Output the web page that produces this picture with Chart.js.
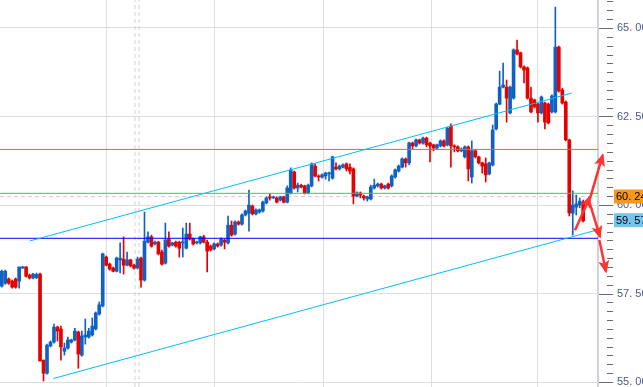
<!DOCTYPE html>
<html>
<head>
<meta charset="utf-8">
<script src="https://cdn.jsdelivr.net/npm/chart.js@4.4.1/dist/chart.umd.min.js"></script>
<style>
  html, body { margin: 0; padding: 0; background: #fff; }
  canvas { display: block; }
</style>
</head>
<body>
<canvas id="chart" width="643" height="387"></canvas>
<script>
// Candles (OHLC), one per bar
const open = [
  57.71,57.79,57.91,57.85,57.91,57.85,58.22,58.25,58.02,57.94,
  57.95,58.05,55.62,55.25,56.02,56.13,56.55,56.50,55.87,55.96,
  56.13,56.19,56.41,55.76,56.27,56.27,56.33,56.50,56.92,57.15,
  58.53,58.33,58.22,58.13,58.45,58.47,58.30,58.45,58.30,58.22,
  58.50,57.88,58.95,59.10,58.90,58.95,58.67,58.36,59.04,58.87,
  58.95,58.95,58.93,58.78,59.18,59.04,58.93,58.93,59.10,58.95,
  58.84,58.76,58.90,58.87,59.01,58.93,59.43,59.18,59.52,59.46,
  59.72,59.77,59.97,59.75,59.80,59.83,60.06,60.23,60.20,60.20,
  60.14,60.23,60.08,60.34,60.93,60.48,60.56,60.54,60.34,60.54,
  61.10,60.82,60.79,60.82,60.88,60.76,61.07,61.02,61.07,61.16,
  61.07,61.02,60.25,60.34,60.25,60.17,60.17,60.48,60.54,60.59,
  60.48,60.59,60.54,60.79,60.96,61.07,61.30,61.19,61.75,61.67,
  61.84,61.75,61.89,61.75,61.70,61.61,61.67,61.81,61.70,62.23,
  61.67,61.64,61.53,61.36,61.64,60.79,61.53,61.36,61.19,61.16,
  60.88,61.13,62.15,62.85,63.33,63.33,62.60,63.02,64.38,64.30,
  63.90,63.87,63.02,62.97,62.85,62.60,62.88,62.85,62.63,62.63,
  64.46,63.25,62.91,61.84,59.77,59.94,60.00,60.08
];
const high = [
  58.16,58.16,57.94,57.88,57.94,58.25,58.27,58.26,58.05,58.07,
  58.08,58.08,55.62,56.07,56.16,56.64,56.58,56.58,56.10,56.27,
  56.21,56.52,56.44,56.44,56.78,56.52,56.81,56.98,57.26,58.64,
  58.56,58.36,58.25,58.53,58.93,59.10,58.67,58.47,58.33,58.53,
  58.53,59.80,59.24,59.15,58.98,58.98,58.73,59.49,59.24,58.95,
  58.98,58.98,59.35,59.49,59.49,59.07,58.98,59.12,59.15,59.01,
  58.87,58.93,58.93,59.07,59.04,59.69,59.55,59.55,59.55,59.75,
  59.86,60.42,60.00,59.89,59.89,60.11,60.23,60.31,60.25,60.23,
  60.25,60.25,60.54,61.05,60.96,60.62,60.59,60.56,60.59,61.19,
  61.16,60.85,60.88,60.93,60.93,61.38,61.19,61.13,61.16,61.19,
  61.16,61.05,60.37,60.37,60.28,60.25,60.56,60.73,60.62,60.62,
  60.56,60.62,60.85,61.02,61.13,61.33,61.33,61.78,61.78,61.86,
  61.86,61.92,61.92,61.78,61.72,61.72,61.84,61.84,62.20,62.29,
  61.70,61.67,61.61,61.67,61.67,61.81,61.55,61.38,61.21,61.33,
  61.21,62.26,62.88,63.78,64.01,63.53,63.36,64.41,64.66,64.32,
  63.93,63.90,63.33,62.99,62.88,63.08,62.91,62.88,63.11,65.59,
  64.49,63.30,62.94,61.86,60.40,60.28,60.20,60.14
];
const low = [
  57.68,57.76,57.76,57.65,57.65,57.65,58.21,57.96,57.91,57.91,
  57.92,57.57,55.03,55.22,55.99,56.10,56.16,55.62,55.76,55.93,
  56.10,56.16,55.39,55.73,56.07,56.24,56.30,56.47,56.89,57.12,
  58.28,58.16,58.11,58.11,58.08,58.05,58.28,58.25,58.19,58.19,
  57.68,57.85,58.93,58.81,58.87,58.59,58.30,58.33,58.81,58.84,
  58.81,58.53,58.53,58.76,59.01,58.87,58.90,58.90,58.93,58.11,
  58.70,58.73,58.81,58.84,58.76,58.90,59.12,59.15,59.43,59.43,
  59.69,59.26,59.72,59.72,59.77,59.80,60.03,60.14,60.18,60.06,
  60.11,60.06,60.06,60.31,60.45,60.37,60.48,60.31,60.31,60.51,
  60.79,60.68,60.76,60.73,60.68,60.73,60.99,60.99,61.05,60.96,
  60.88,60.03,60.23,60.20,60.14,60.11,60.14,60.45,60.51,60.45,
  60.45,60.45,60.51,60.76,60.93,61.05,61.07,61.13,61.58,61.64,
  61.72,61.72,61.64,61.22,61.53,61.58,61.64,61.64,61.67,61.07,
  61.50,61.50,61.50,61.33,60.68,60.62,61.33,61.16,60.90,60.65,
  60.85,61.10,62.12,62.83,63.31,62.34,62.57,62.99,64.24,63.87,
  63.45,62.99,62.60,62.74,62.34,62.57,62.15,62.29,62.60,62.60,
  63.19,62.85,61.81,59.69,59.15,59.72,59.92,59.52
];
const close = [
  58.13,58.13,57.79,57.68,57.68,58.25,58.25,57.99,57.94,58.05,
  58.04,55.59,55.25,56.04,56.13,56.55,56.44,55.99,55.96,56.19,
  56.19,56.44,55.79,56.30,56.33,56.44,56.58,56.95,57.18,58.62,
  58.30,58.19,58.13,58.50,58.50,58.30,58.45,58.28,58.22,58.47,
  57.88,58.98,59.10,58.84,58.95,58.62,58.33,59.01,58.84,58.93,
  58.84,58.78,58.95,59.18,59.04,58.90,58.95,59.10,58.95,58.70,
  58.73,58.90,58.84,59.04,58.95,59.43,59.15,59.52,59.46,59.72,
  59.83,60.00,59.75,59.86,59.86,60.08,60.20,60.20,60.23,60.08,
  60.23,60.08,60.48,60.99,60.48,60.56,60.51,60.34,60.56,61.16,
  60.82,60.79,60.85,60.90,60.90,61.36,61.02,61.10,61.13,61.02,
  60.96,60.25,60.34,60.28,60.20,60.23,60.51,60.56,60.59,60.48,
  60.54,60.48,60.82,60.99,61.10,61.30,61.19,61.75,61.67,61.84,
  61.75,61.89,61.70,61.67,61.61,61.70,61.81,61.67,62.17,61.67,
  61.64,61.53,61.58,61.64,61.02,61.53,61.36,61.19,61.10,60.85,
  61.19,62.12,62.85,63.33,63.39,63.02,63.33,64.38,64.27,63.90,
  63.81,63.02,62.63,62.77,62.60,63.05,62.34,62.32,63.08,64.46,
  63.22,62.88,61.84,59.77,60.00,60.03,60.11,59.55
];

// price axis
const yLabels = [55, 57.5, 60, 62.5, 65];
const yMin = 54.86, yMax = 65.79, tickStep = 0.25;
// bar-index axis (a few empty slots on the right)
const xMin = -0.5, xMax = 171.25;
const gridIdx = [30.2, 61, 92.3, 123.3, 154];
const sessionIdx = [38.27, 39.42];

// horizontal levels: orange, green, blue
const levelPrices = [61.57, 60.33, 59.06];
const askPrice = 60.24;
const bidPrice = 59.57;

// channel lines [index, price]
const upperChannel = [[7.92, 58.98], [163.7, 63.16]];
const lowerChannel = [[14.81, 55.10], [170.39, 59.28]];
// scenario arrows [index, price] start -> end
const arrowPaths = [
  [[164.65, 59.29], [168.96, 60.23]],
  [[168.96, 60.19], [172.6, 61.41]],
  [[168.47, 60.19], [171.83, 59.10]],
  [[171.63, 59.01], [173.55, 58.12]]
];

const UP = '#1061c4', DOWN = '#e60000';
const candleColor = ctx => close[ctx.dataIndex] >= open[ctx.dataIndex] ? UP : DOWN;
const pts = arr => arr.map(p => ({ x: p[0], y: p[1] }));

const datasets = [];

// arrows on top
arrowPaths.forEach(a => datasets.push({
  type: 'line', data: pts(a), arrow: true, borderColor: '#ff3333', borderWidth: 2.5,
  pointRadius: 0, clip: false, order: 0
}));
[upperChannel, lowerChannel].forEach(c => datasets.push({
  type: 'line', data: pts(c), borderColor: '#00bfff', borderWidth: 1, pointRadius: 0, order: 1
}));
const levelColors = ['#f0661a', '#22dd22', '#0000ff'];
levelPrices.forEach((p, i) => datasets.push({
  type: 'line', data: [{ x: xMin, y: p }, { x: xMax, y: p }],
  borderColor: levelColors[i], borderWidth: 1, pointRadius: 0, order: 2
}));
datasets.push({
  type: 'line', data: [{ x: xMin, y: askPrice }, { x: xMax, y: askPrice }],
  borderColor: '#d2d2d2', borderWidth: 1, borderDash: [4, 3], pointRadius: 0, order: 6
});
sessionIdx.forEach(v => datasets.push({
  type: 'line', data: [{ x: v, y: yMin }, { x: v, y: yMax }],
  borderColor: '#d2d2d2', borderWidth: 1, borderDash: [4, 3], pointRadius: 0, order: 6
}));

// candle bodies and wicks
datasets.push({
  type: 'bar', order: 3, grouped: false, barThickness: 3, minBarLength: 1,
  data: open.map((o, i) => ({ x: i, y: [Math.min(o, close[i]), Math.max(o, close[i])] })),
  backgroundColor: candleColor, borderWidth: 0
});
datasets.push({
  type: 'bar', order: 4, grouped: false, barThickness: 1,
  data: open.map((o, i) => ({ x: i, y: [low[i], high[i]] })),
  backgroundColor: candleColor, borderWidth: 0
});

const fmt = v => v.toFixed(2).replace('.', '. ');

const decor = {
  id: 'decor',
  afterDatasetsDraw(chart) {
    const ctx = chart.ctx;
    chart.data.datasets.forEach((ds, di) => {
      if (!ds.arrow) return;
      const el = chart.getDatasetMeta(di).data;
      const a = el[el.length - 2], b = el[el.length - 1];
      const ang = Math.atan2(b.y - a.y, b.x - a.x);
      ctx.save();
      ctx.translate(b.x, b.y);
      ctx.rotate(ang);
      ctx.beginPath();
      ctx.moveTo(2, 0);
      ctx.lineTo(-11, -5.5);
      ctx.lineTo(-8, 0);
      ctx.lineTo(-11, 5.5);
      ctx.closePath();
      ctx.fillStyle = ds.borderColor;
      ctx.fill();
      ctx.restore();
    });
  },
  afterDraw(chart) {
    const ctx = chart.ctx;
    const ys = chart.scales.y;
    ctx.save();
    ctx.strokeStyle = '#6a6a6a';
    ctx.lineWidth = 1;
    for (let v = Math.ceil(ys.min / tickStep) * tickStep; v <= ys.max; v += tickStep) {
      const py = Math.round(ys.getPixelForValue(v)) + 0.5;
      const major = yLabels.some(l => Math.abs(l - v) < 1e-6);
      ctx.beginPath();
      ctx.moveTo(ys.left + (major ? 1 : 9), py);
      ctx.lineTo(ys.left + 15, py);
      ctx.stroke();
    }
    [[askPrice, '#f7981d'], [bidPrice, '#74c6f0']].forEach(([p, c]) => {
      const py = ys.getPixelForValue(p);
      ctx.fillStyle = c;
      ctx.fillRect(ys.left + 16, py - 7, 45, 14);
      ctx.fillStyle = '#000';
      ctx.font = '11px "Liberation Sans"';
      ctx.textBaseline = 'middle';
      ctx.fillText(fmt(p), ys.left + 18, py + 0.5);
    });
    ctx.restore();
  }
};

new Chart(document.getElementById('chart').getContext('2d'), {
  type: 'bar',
  data: { datasets },
  options: {
    responsive: false,
    animation: false,
    events: [],
    layout: { padding: 0 },
    plugins: { legend: { display: false }, tooltip: { enabled: false } },
    scales: {
      x: {
        type: 'linear', min: xMin, max: xMax, offset: false,
        ticks: { display: false },
        grid: { color: '#dedede', drawTicks: false, offset: false },
        border: { display: false },
        afterBuildTicks: s => { s.ticks = gridIdx.map(v => ({ value: v })); },
        afterFit: s => { s.height = 0; s.paddingLeft = 0; s.paddingRight = 0; }
      },
      y: {
        type: 'linear', position: 'right', min: yMin, max: yMax,
        grid: { color: '#dedede', drawTicks: false },
        border: { color: '#cdd4db', width: 2 },
        ticks: {
          padding: 19, color: '#505785',
          font: { family: 'Liberation Sans', size: 11 },
          callback: v => fmt(v)
        },
        afterBuildTicks: s => { s.ticks = yLabels.map(v => ({ value: v })); },
        afterFit: s => { s.width = 45; s.paddingTop = 0; s.paddingBottom = 0; }
      }
    }
  },
  plugins: [decor]
});
</script>
</body>
</html>
